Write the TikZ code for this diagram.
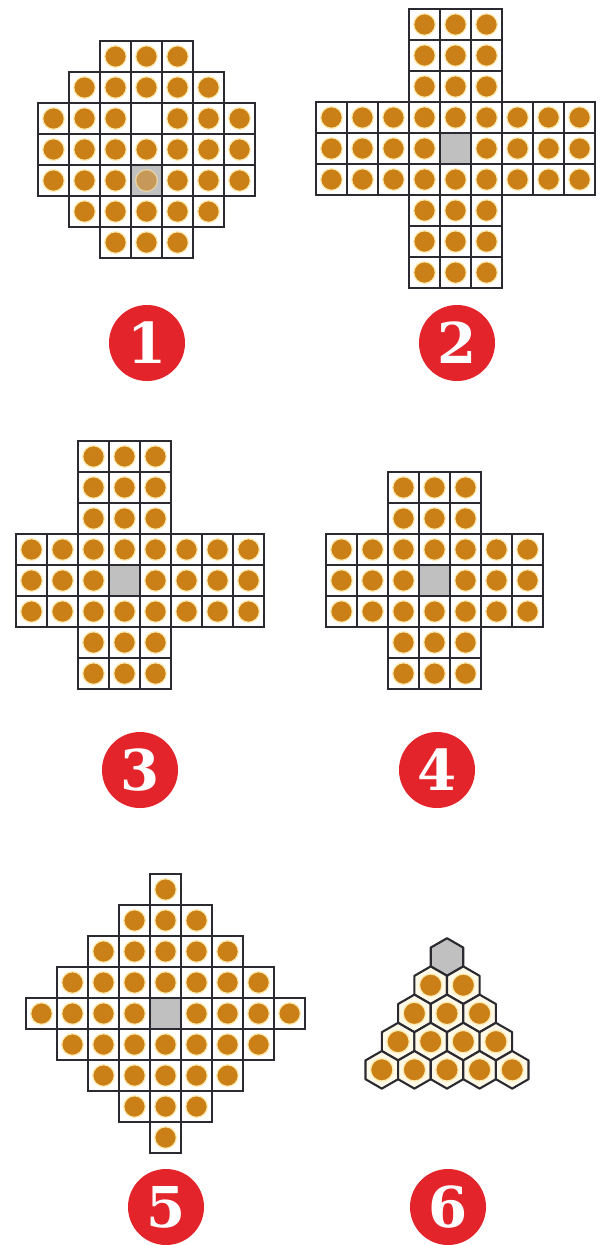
\documentclass[tikz,border=0pt]{standalone}
\usepackage{fontspec}
\newfontfamily\badgefont{DejaVu Serif}
\usetikzlibrary{positioning}
\definecolor{pegorange}{RGB}{202,128,22}
\definecolor{badgered}{RGB}{227,36,43}
\definecolor{gridline}{RGB}{42,42,48}
\definecolor{holegray}{RGB}{192,192,192}
\definecolor{pegring}{RGB}{255,234,176}
\definecolor{hexfill}{RGB}{255,250,232}

\begin{document}
\begin{tikzpicture}[
    x=0.025cm, y=-0.025cm,
    cellbox/.style={draw=gridline, line width=1.7pt},
    holebox/.style={draw=gridline, line width=1.7pt, fill=holegray},
    pegdot/.style={fill=pegorange, draw=pegring, line width=0.9pt},
    hexbox/.style={draw=gridline, line width=1.5pt, fill=hexfill, line join=round},
    hexhole/.style={draw=gridline, line width=1.5pt, fill=holegray, line join=round},
    badge/.style={circle, fill=badgered, text=white, minimum size=1.9cm, inner sep=0pt,
                  font=\badgefont\bfseries\fontsize{40}{40}\selectfont},
]
\useasboundingbox (0,0) rectangle (602,1245);

% board 1: french
\begin{scope}[shift={(38,41)}, x=0.775cm, y=-0.775cm]
  \foreach \r/\a/\b in {0/2/4,1/1/5,2/0/6,3/0/6,4/0/6,5/1/5,6/2/4}
    \foreach \c in {\a,...,\b} {
      \draw[cellbox] (\c,\r) rectangle ++(1,1);
      \draw[pegdot] (\c+0.5,\r+0.5) circle[radius=0.27cm];
    }
  \draw[cellbox, fill=white] (3,2) rectangle ++(1,1);
  \draw[holebox] (3,4) rectangle ++(1,1);
  \draw[pegdot, opacity=0.6] (3.5,4.5) circle[radius=0.27cm];
\end{scope}

% board 2: 9x9 cross
\begin{scope}[shift={(316,9)}, x=0.775cm, y=-0.775cm]
  \foreach \r/\a/\b in {0/3/5,1/3/5,2/3/5,3/0/8,4/0/8,5/0/8,6/3/5,7/3/5,8/3/5}
    \foreach \c in {\a,...,\b} {
      \draw[cellbox] (\c,\r) rectangle ++(1,1);
      \draw[pegdot] (\c+0.5,\r+0.5) circle[radius=0.27cm];
    }
  \draw[holebox] (4,4) rectangle ++(1,1);
\end{scope}

% board 3: 8x8 cross
\begin{scope}[shift={(16,441)}, x=0.775cm, y=-0.775cm]
  \foreach \r/\a/\b in {0/2/4,1/2/4,2/2/4,3/0/7,4/0/7,5/0/7,6/2/4,7/2/4}
    \foreach \c in {\a,...,\b} {
      \draw[cellbox] (\c,\r) rectangle ++(1,1);
      \draw[pegdot] (\c+0.5,\r+0.5) circle[radius=0.27cm];
    }
  \draw[holebox] (3,4) rectangle ++(1,1);
\end{scope}

% board 4: english
\begin{scope}[shift={(326,472)}, x=0.775cm, y=-0.775cm]
  \foreach \r/\a/\b in {0/2/4,1/2/4,2/0/6,3/0/6,4/0/6,5/2/4,6/2/4}
    \foreach \c in {\a,...,\b} {
      \draw[cellbox] (\c,\r) rectangle ++(1,1);
      \draw[pegdot] (\c+0.5,\r+0.5) circle[radius=0.27cm];
    }
  \draw[holebox] (3,3) rectangle ++(1,1);
\end{scope}

% board 5: diamond
\begin{scope}[shift={(26,874)}, x=0.775cm, y=-0.775cm]
  \foreach \r/\a/\b in {0/4/4,1/3/5,2/2/6,3/1/7,4/0/8,5/1/7,6/2/6,7/3/5,8/4/4}
    \foreach \c in {\a,...,\b} {
      \draw[cellbox] (\c,\r) rectangle ++(1,1);
      \draw[pegdot] (\c+0.5,\r+0.5) circle[radius=0.27cm];
    }
  \draw[holebox] (4,4) rectangle ++(1,1);
\end{scope}

% board 6: triangle of hexagons
\draw[hexhole] (447,957) +(30:18.8) -- +(90:18.8) -- +(150:18.8)
  -- +(210:18.8) -- +(270:18.8) -- +(330:18.8) -- cycle;
\foreach \i in {1,...,4}
  \foreach \j in {0,...,\i} {
    \draw[hexbox] ({447+(\j-\i/2)*32.6},{957+\i*28.2}) +(30:18.8) -- +(90:18.8)
      -- +(150:18.8) -- +(210:18.8) -- +(270:18.8) -- +(330:18.8) -- cycle;
    \draw[pegdot] ({447+(\j-\i/2)*32.6},{957+\i*28.2}) circle[radius=0.28cm];
  }

% number badges
\node[badge] (n1) at (147,343)  {1};
\node[badge] (n2) at (457,343)  {2};
\node[badge] (n3) at (140,770)  {3};
\node[badge] (n4) at (437,770)  {4};
\node[badge] (n5) at (166,1207) {5};
\node[badge] (n6) at (448,1207) {6};

\end{tikzpicture}
\end{document}
